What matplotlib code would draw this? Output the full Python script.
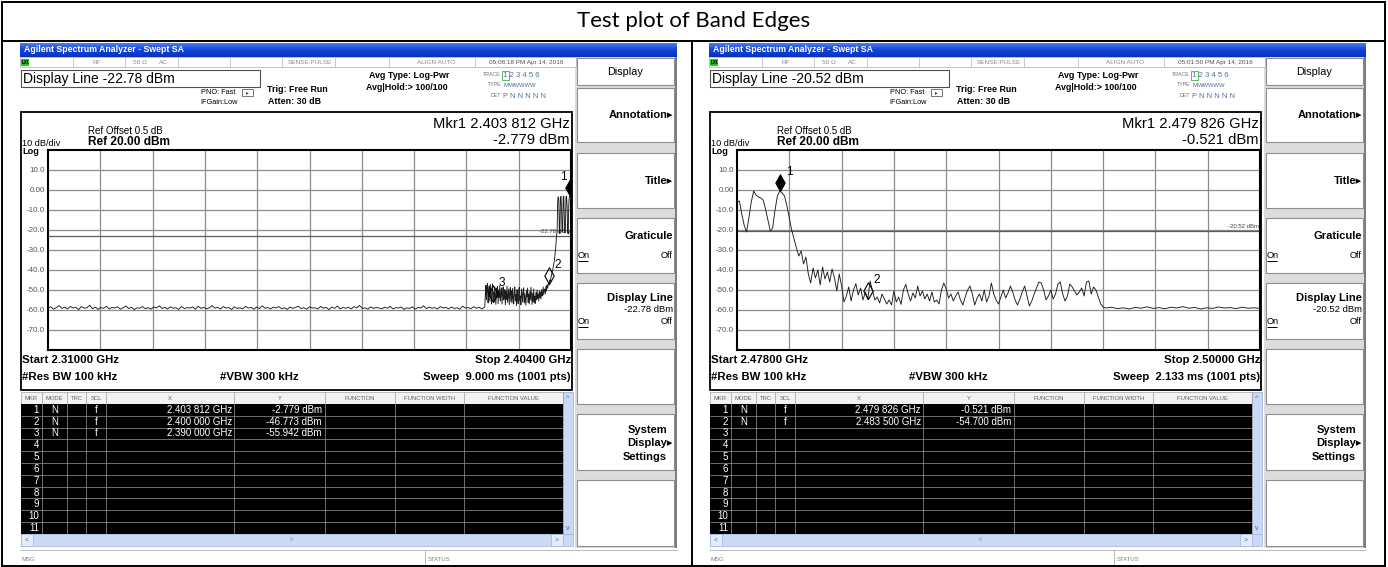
import numpy as np
import matplotlib.pyplot as plt
from matplotlib.patches import Rectangle
from matplotlib.path import Path
from matplotlib.colors import LinearSegmentedColormap

W, H = 1388, 567
plt.rcParams['font.family'] = ['Liberation Sans', 'DejaVu Sans']
NARROW = ['Liberation Sans Narrow', 'Liberation Sans', 'DejaVu Sans']

# ---------------- left screen: lower band edge ----------------
left_time = '05:08:18 PM Apr 14, 2016'
left_display_line = -22.78
left_start_mhz, left_stop_mhz = 2310.0, 2404.0
left_sweep_ms = 9.000
# 2310.0 .. 2388.0 MHz, 0.5 MHz step
left_floor_dbm = [
    -59.0, -58.4, -59.6, -58.8, -57.8, -59.2, -58.6, -59.5, -58.2, -59.0,
    -58.7, -59.8, -58.3, -59.1, -58.9, -57.6, -59.4, -58.5, -59.7, -58.8,
    -59.2, -58.1, -59.5, -58.7, -59.0, -58.4, -59.6, -58.9, -58.0, -59.3,
    -58.6, -59.8, -58.9, -59.1, -58.3, -59.4, -58.8, -59.6, -58.5, -59.0,
    -57.9, -59.2, -58.7, -59.5, -58.4, -59.1, -58.9, -59.7, -58.2, -59.3,
    -58.8, -59.0, -58.5, -59.6, -58.1, -59.2, -58.7, -59.4, -58.9, -57.8,
    -59.1, -58.6, -59.5, -58.3, -59.0, -58.8, -59.7, -58.4, -59.2, -58.9,
    -59.4, -58.2, -59.0, -58.7, -59.6, -58.5, -59.3, -57.9, -59.1, -58.8,
    -59.5, -58.6, -59.0, -58.3, -59.4, -58.9, -59.7, -58.5, -59.2, -58.7,
    -58.1, -59.3, -58.8, -59.6, -58.4, -59.0, -58.9, -59.5, -58.2, -59.1,
    -58.7, -59.8, -58.5, -59.2, -58.0, -59.4, -58.8, -59.1, -58.6, -59.5,
    -58.3, -59.0, -57.7, -59.3, -58.9, -59.6, -58.4, -59.2, -58.7, -59.0,
    -59.4, -58.6, -59.1, -58.2, -59.5, -58.8, -59.0, -58.5, -59.7, -58.9,
    -59.2, -58.4, -59.6, -58.7, -59.0, -57.9, -59.3, -58.6, -59.1, -58.8,
    -59.5, -58.3, -59.0, -58.7, -59.4, -58.5, -59.2, -58.9, -59.6, -58.1,
    -59.0, -58.8, -59.3, -58.4, -59.1, -58.6, -59.5,
]
# 2388.5 .. 2399.9 MHz, 0.1 MHz step
left_skirt_dbm = [
    -58.5, -52.0, -47.5, -55.0, -49.0, -46.8, -56.5, -50.5, -48.0, -55.5,
    -47.2, -53.0, -57.0, -49.5, -47.0, -55.9, -51.0, -56.0, -48.5, -52.5,
    -57.2, -49.0, -53.5, -48.2, -56.8, -50.0, -54.0, -47.8, -55.5, -51.5,
    -49.0, -57.0, -52.0, -48.5, -55.0, -53.5, -49.8, -57.5, -50.5, -54.8,
    -48.0, -56.2, -52.8, -49.5, -57.3, -51.0, -48.8, -55.8, -50.2, -56.5,
    -49.2, -53.8, -57.0, -50.8, -48.5, -55.5, -52.2, -57.8, -49.8, -54.0,
    -56.8, -50.5, -48.7, -55.2, -53.0, -57.4, -49.5, -52.5, -56.0, -50.0,
    -48.9, -56.5, -51.8, -54.5, -57.6, -50.2, -53.5, -49.0, -56.2, -52.0,
    -57.0, -50.8, -55.0, -48.6, -53.2, -57.2, -51.5, -55.8, -49.5, -56.5,
    -53.0, -56.8, -51.2, -55.0, -50.0, -54.2, -52.0, -55.5, -50.5, -53.8,
    -51.0, -54.5, -49.8, -53.0, -51.5, -48.5, -52.5, -50.0, -49.5, -51.8,
    -48.2, -50.5, -47.5, -49.0, -47.0,
]
# 2400.0 .. 2404.0 MHz, 0.1 MHz step
left_band_dbm = [
    -46.8, -47.5, -45.0, -45.8, -43.5, -42.8, -41.0, -40.2, -38.5, -37.0,
    -35.5, -33.0, -30.5, -27.0, -22.5, -21.0, -6.0, -3.4, -4.5, -20.5,
    -21.8, -4.0, -3.2, -9.5, -21.0, -20.0, -3.8, -3.0, -14.0, -21.5,
    -18.0, -3.5, -3.1, -8.0, -20.8, -22.0, -7.0, -3.3, -2.8, -3.6,
    -5.0,
]
left_mkr_ghz = [2.403812, 2.400000, 2.390000]
left_mkr_dbm = [-2.779, -46.773, -55.942]

# ---------------- right screen: upper band edge ----------------
right_time = '05:01:50 PM Apr 14, 2016'
right_display_line = -20.52
right_start_mhz, right_stop_mhz = 2478.0, 2500.0
right_sweep_ms = 2.133
# 2478.0 .. 2493.4 MHz, 0.1 MHz step
right_band_dbm = [
    -6.0, -5.5, -12.0, -17.5, -21.0, -14.0, -6.0, -0.5, -2.5, -3.5,
    -4.0, -5.0, -9.5, -15.0, -20.5, -19.0, -10.0, -3.0, -0.52, -1.5,
    -3.0, -8.0, -14.0, -20.0, -24.5, -29.0, -33.0, -30.5, -37.0, -33.5,
    -42.0, -46.5, -39.0, -44.0, -40.0, -47.5, -38.5, -44.5, -41.0, -46.0,
    -39.5, -44.0, -50.5, -42.0, -48.0, -56.0, -53.0, -48.5, -55.5, -50.0,
    -46.8, -52.5, -49.0, -55.0, -51.0, -54.7, -45.5, -50.5, -55.0, -53.5,
    -56.5, -52.0, -54.5, -57.0, -55.0, -57.5, -50.5, -56.0, -53.5, -57.2,
    -50.0, -47.2, -52.0, -55.5, -51.5, -54.0, -48.0, -53.0, -50.5, -54.5,
    -52.0, -55.5, -51.0, -56.0, -55.0, -57.0, -50.0, -46.5, -49.5, -54.0,
    -52.0, -55.5, -53.0, -51.0, -55.0, -57.5, -53.5, -50.0, -48.0, -52.0,
    -57.5, -54.0, -52.0, -55.5, -50.0, -56.0, -53.0, -46.5, -52.0, -55.0,
    -57.0, -53.5, -50.0, -54.0, -51.5, -48.0, -51.0, -55.0, -57.5, -54.5,
    -51.0, -48.0, -53.0, -58.0, -55.5, -52.0, -49.0, -46.0, -46.5, -50.0,
    -55.0, -53.0, -50.0, -54.5, -52.0, -47.0, -46.0, -52.0, -55.5, -53.0,
    -47.0, -48.5, -50.5, -52.5, -51.0, -49.0, -53.0, -46.0, -45.5, -52.0,
    -48.5, -50.0, -53.5, -57.0, -58.5,
]
# 2493.5 .. 2500.0 MHz, 0.25 MHz step
right_floor_dbm = [
    -59.0, -58.6, -59.3, -58.9, -59.5, -58.7, -59.1, -58.4, -59.2, -58.8,
    -59.4, -58.6, -59.0, -58.3, -59.1, -58.7, -59.5, -58.9, -59.2, -58.5,
    -59.0, -58.8, -59.3, -58.6, -59.1, -58.9, -59.2,
]
right_mkr_ghz = [2.479826, 2.483500]
right_mkr_dbm = [-0.521, -54.700]

left_freq = np.concatenate([
    np.linspace(2310.0, 2388.0, len(left_floor_dbm)),
    np.linspace(2388.5, 2399.9, len(left_skirt_dbm)),
    np.linspace(2400.0, 2404.0, len(left_band_dbm)),
])
left_dbm = np.array(left_floor_dbm + left_skirt_dbm + left_band_dbm)
right_freq = np.concatenate([
    np.linspace(2478.0, 2493.4, len(right_band_dbm)),
    np.linspace(2493.5, 2500.0, len(right_floor_dbm)),
])
right_dbm = np.array(right_band_dbm + right_floor_dbm)

fig = plt.figure(figsize=(W / 100, H / 100), dpi=100)
cv = fig.add_axes([0, 0, 1, 1])
cv.axis('off')


def box(x0, y0, x1, y1, fc='none', ec='none', lw=0.7, z=1):
    cv.add_patch(Rectangle((x0, y0), x1 - x0, y1 - y0, facecolor=fc,
                           edgecolor=ec, linewidth=lw, zorder=z))


def hline(x0, x1, y, color='black', lw=0.7, z=3):
    cv.plot([x0, x1], [y, y], color=color, lw=lw, zorder=z, solid_capstyle='butt')


def vline(x, y0, y1, color='black', lw=0.7, z=3):
    cv.plot([x, x], [y0, y1], color=color, lw=lw, zorder=z, solid_capstyle='butt')


def put(x, y, s, size=7, ha='left', va='center', weight='normal', color='black',
        family=None, z=5):
    kw = {'family': family} if family else {}
    cv.text(x, y, s, fontsize=size, ha=ha, va=va, fontweight=weight, color=color,
            zorder=z, **kw)


def fmt_ghz(g):
    s = f'{g:.6f}'
    return s[:5] + ' ' + s[5:]


bar_cmap = LinearSegmentedColormap.from_list('bar', ['#4a7cf0', '#1242d6', '#0833c0'])
mk_path = Path([(0, 0), (0.28, 0.5), (0, 1), (-0.28, 0.5), (0, 0)],
               [Path.MOVETO, Path.LINETO, Path.LINETO, Path.LINETO, Path.CLOSEPOLY])


def draw_screen(ox, time_str, disp_line, f_start, f_stop, sweep_ms,
                freq, dbm, mk_ghz, mk_dbm):
    def X(x):
        return x + ox

    # window title bar
    grad = np.linspace(0, 1, 24).reshape(-1, 1)
    cv.imshow(grad, cmap=bar_cmap, extent=[X(20), X(677), 57, 43], aspect='auto', zorder=1)
    put(X(24), 50, 'Agilent Spectrum Analyzer - Swept SA', 6.3, weight='bold',
        color='white', family=NARROW)

    # status strip
    box(X(20), 57, X(576), 67, fc='white', ec='#a8a8a8', lw=0.5, z=2)
    for sx in [73, 125, 178, 230, 282, 335, 389, 475]:
        vline(X(sx), 57, 67, color='#b4b4b4', lw=0.5)
    box(X(21), 58.5, X(29), 66, fc='#19c819', z=3)
    put(X(21.5), 62.5, 'LXI', 3.3, weight='bold', family=NARROW)
    grey = '#8a8a8a'
    put(X(97), 62.5, 'RF', 4.6, ha='center', color=grey)
    put(X(140), 62.5, '50 Ω', 4.6, ha='center', color=grey)
    put(X(163), 62.5, 'AC', 4.6, ha='center', color=grey)
    put(X(310), 62.5, 'SENSE:PULSE', 4.6, ha='center', color=grey)
    put(X(436), 62.5, 'ALIGN AUTO', 4.6, ha='center', color=grey)
    put(X(526), 62.5, time_str, 4.6, ha='center', color='#505050')

    # active function box and acquisition settings
    box(X(21), 70, X(260), 87, fc='white', ec='#505050', lw=0.8, z=2)
    put(X(23), 79, f'Display Line {disp_line:.2f} dBm', 10)
    put(X(235), 92, 'PNO: Fast', 5.3, ha='right', family=NARROW)
    put(X(238), 102.5, 'IFGain:Low', 5.3, ha='right', family=NARROW)
    box(X(242), 89, X(253), 95.5, fc='white', ec='#606060', lw=0.6, z=3)
    put(X(247.5), 93, '▸', 4, ha='center', color='#404040', family=['DejaVu Sans'])
    put(X(267), 89, 'Trig: Free Run', 6.4, weight='bold', family=NARROW)
    put(X(268), 101.5, 'Atten: 30 dB', 6.4, weight='bold', family=NARROW)
    put(X(409), 75.5, 'Avg Type: Log-Pwr', 6.4, ha='center', weight='bold', family=NARROW)
    put(X(407), 88, 'Avg|Hold:> 100/100', 6.4, ha='center', weight='bold', family=NARROW)
    put(X(501), 75, 'TRACE', 3.8, ha='right', color='#707070')
    put(X(501), 85, 'TYPE', 3.8, ha='right', color='#707070')
    put(X(501), 95.5, 'DET', 3.8, ha='right', color='#707070')
    box(X(502), 70.5, X(509), 79.5, fc='none', ec='#40b040', lw=0.6, z=3)
    put(X(503.5), 75.5, '1 2 3 4 5 6', 5.6, color='#5070a0')
    put(X(503.5), 85.5, 'M', 4.5, color='#5070a0')
    put(X(509), 85.5, 'WWWWW', 4.2, color='#5070a0', family=NARROW)
    put(X(503.5), 96, 'P N N N N N', 5.4, color='#5070a0')

    # trace window frame and annotations
    box(X(21), 112, X(572), 390, fc='white', ec='black', lw=1.3, z=1)
    put(X(88), 130.5, 'Ref Offset 0.5 dB', 7)
    put(X(88), 142, 'Ref 20.00 dBm', 8.6, weight='bold')
    put(X(22), 143.5, '10 dB/div', 6.6)
    put(X(22), 151, 'Log', 6.6, weight='bold')
    put(X(570), 123.5, f'Mkr1 {fmt_ghz(mk_ghz[0])} GHz', 10.6, ha='right')
    put(X(570), 139.5, f'{mk_dbm[0]:.3f} dBm', 10.6, ha='right')
    put(X(22), 360, f'Start {f_start / 1000:.5f} GHz', 8.2, weight='bold')
    put(X(571), 360, f'Stop {f_stop / 1000:.5f} GHz', 8.2, ha='right', weight='bold')
    put(X(22), 377, '#Res BW 100 kHz', 8.2, weight='bold')
    put(X(220), 377, '#VBW 300 kHz', 8.2, weight='bold')
    put(X(571), 377, f'Sweep  {sweep_ms:.3f} ms (1001 pts)', 8.2, ha='right', weight='bold')

    # graticule with trace
    ax = fig.add_axes([X(48) / W, 1 - 350 / H, (571 - 48) / W, 200 / H])
    ax.set_xlim(f_start, f_stop)
    ax.set_ylim(-80, 20)
    ax.set_xticks(np.linspace(f_start, f_stop, 11)[1:-1])
    ax.set_xticklabels([])
    yt = np.arange(-70, 20, 10)
    ax.set_yticks(yt)
    ax.set_yticklabels(['0.00' if v == 0 else f'{v:.1f}' for v in yt],
                       fontsize=5.8, color='#555555')
    ax.tick_params(length=0, pad=2.2)
    ax.grid(True, color='#8c8c8c', lw=0.9)
    ax.set_axisbelow(True)
    for sp in ax.spines.values():
        sp.set_linewidth(1.5)
    ax.axhline(disp_line, color='#5c5c5c', lw=0.9, zorder=1.5)
    ax.text(f_stop - 0.002 * (f_stop - f_start), disp_line + 0.9, f'{disp_line:.2f} dBm',
            fontsize=4.3, ha='right', va='bottom', color='#404040', zorder=1.6)
    ax.plot(freq, dbm, color='#1c1c1c', lw=0.65, zorder=3)
    span = f_stop - f_start
    for i, (g, v) in enumerate(zip(mk_ghz, mk_dbm)):
        f = g * 1000
        ax.plot([f], [v], marker=mk_path, ms=24, mec='black', mew=0.8,
                mfc='black' if i == 0 else 'none', ls='none', zorder=4)
        dx = -7 if f > f_stop - 0.03 * span else 9
        ax.annotate(str(i + 1), (f, v), xytext=(dx, 19), textcoords='offset pixels',
                    fontsize=8.5, ha='center', va='center', zorder=5)

    # softkey column
    box(X(575), 57, X(677), 548, fc='#dcdcdc', ec='none', z=1)
    vline(X(676.5), 57, 548, color='#6a6a6a', lw=1.2)
    keys = [(58, 85), (88, 142), (153, 208), (218, 273), (283, 339),
            (349, 404), (414, 470), (480, 546)]
    for y0, y1 in keys:
        box(X(577), y0, X(674), y1, fc='white', ec='#8e8e8e', lw=0.8, z=2)
    put(X(625), 72, 'Display', 7.8, ha='center')
    put(X(673), 115, 'Annotation▸', 8, ha='right', weight='bold')
    put(X(673), 181, 'Title▸', 8, ha='right', weight='bold')
    put(X(673), 236, 'Graticule', 8, ha='right', weight='bold')
    put(X(673), 298, 'Display Line', 8, ha='right', weight='bold')
    put(X(673), 310, f'{disp_line:.2f} dBm', 6.8, ha='right')
    for yy in (256, 322):
        put(X(578), yy, 'On', 6.6)
        hline(X(578), X(588), yy + 5, lw=0.7)
        put(X(673), yy, 'Off', 6.6, ha='right')
    put(X(667), 430, 'System', 8, ha='right', weight='bold')
    put(X(673), 443.5, 'Display▸', 8, ha='right', weight='bold')
    put(X(667), 457, 'Settings', 8, ha='right', weight='bold')

    # marker table
    cols = [21, 42, 67, 86, 106, 234, 325, 395, 464, 563, 573]
    heads = ['MKR', 'MODE', 'TRC', 'SCL', 'X', 'Y', 'FUNCTION', 'FUNCTION WIDTH',
             'FUNCTION VALUE']
    row_h = 11.8
    top, hdr_h = 392, 12
    box(X(21), top, X(573), top + hdr_h, fc='#f2f2f4', ec='#a0a0a0', lw=0.5, z=2)
    for c0, c1, name in zip(cols[:-2], cols[1:-1], heads):
        put(X((c0 + c1) / 2), top + 6, name, 4.2, ha='center', color='#606060',
            family=NARROW)
    body0 = top + hdr_h
    body1 = body0 + 11 * row_h
    box(X(21), body0, X(563), body1, fc='black', ec='none', z=2)
    for r in range(1, 11):
        hline(X(21), X(563), body0 + r * row_h, color='#9a9a9a', lw=0.5)
    for c in cols[1:-1]:
        vline(X(c), top, body1, color='#9a9a9a', lw=0.5)
    for r in range(11):
        yc = body0 + (r + 0.5) * row_h
        put(X(39), yc, str(r + 1), 7, ha='right', color='white')
        if r < len(mk_ghz):
            put(X(54.5), yc, 'N', 7, ha='center', color='white')
            put(X(96), yc, 'f', 7, ha='center', color='white')
            put(X(232), yc, f'{fmt_ghz(mk_ghz[r])} GHz', 7, ha='right', color='white')
            put(X(322), yc, f'{mk_dbm[r]:.3f} dBm', 7, ha='right', color='white')
    # scroll bars
    box(X(563), top, X(573), body1, fc='#c9d9f6', ec='#9fb4dc', lw=0.5, z=2)
    put(X(568), top + 6, '^', 5, ha='center', color='#4a6aa8')
    put(X(568), body1 - 5, 'v', 5, ha='center', color='#4a6aa8')
    box(X(21), body1, X(573), body1 + 12, fc='#c9d9f6', ec='#9fb4dc', lw=0.5, z=2)
    box(X(21), body1, X(33), body1 + 12, fc='#e4ecfb', ec='#9fb4dc', lw=0.5, z=3)
    box(X(551), body1, X(563), body1 + 12, fc='#e4ecfb', ec='#9fb4dc', lw=0.5, z=3)
    put(X(27), body1 + 6, '<', 5, ha='center', color='#4a6aa8')
    put(X(557), body1 + 6, '>', 5, ha='center', color='#4a6aa8')
    put(X(292), body1 + 6, 'III', 3.5, ha='center', color='#8aa0c8')

    # message line
    hline(X(20), X(677), 550, color='#b0b0b0', lw=0.6)
    vline(X(425), 550, 566, color='#b0b0b0', lw=0.6)
    put(X(22), 559.5, 'MSG', 4.3, color='#808080')
    put(X(428), 559.5, 'STATUS', 4.3, color='#808080')


draw_screen(0, left_time, left_display_line, left_start_mhz, left_stop_mhz,
            left_sweep_ms, left_freq, left_dbm, left_mkr_ghz, left_mkr_dbm)
draw_screen(689, right_time, right_display_line, right_start_mhz, right_stop_mhz,
            right_sweep_ms, right_freq, right_dbm, right_mkr_ghz, right_mkr_dbm)

# page table: title cell and two screenshot cells
box(2, 2, 1385, 566, fc='none', ec='black', lw=1.4, z=6)
hline(2, 1385, 41, lw=1.4, z=6)
vline(692, 41, 566, lw=1.4, z=6)
put(694, 21, 'Test plot of Band Edges', 16, ha='center',
    family=['Lato', 'Open Sans', 'DejaVu Sans'])

cv.set_xlim(0, W)
cv.set_ylim(H, 0)
fig.savefig('out.png', dpi=100)
